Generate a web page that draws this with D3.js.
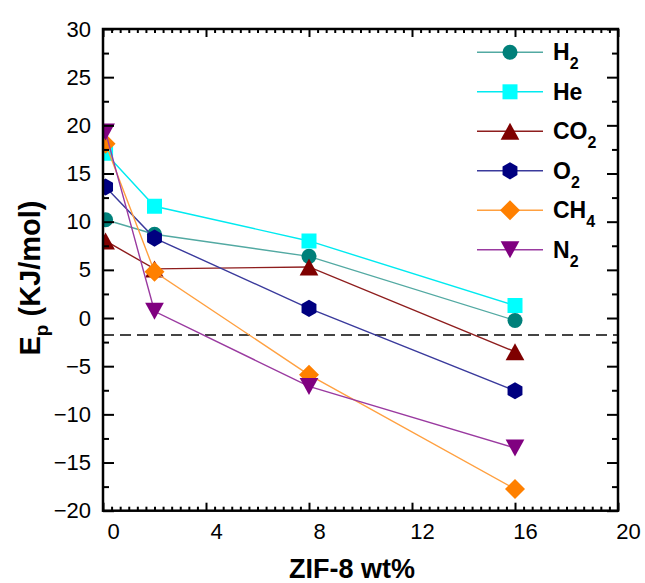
<!DOCTYPE html>
<html>
<head>
<meta charset="utf-8">
<script src="https://cdn.jsdelivr.net/npm/d3@7"></script>
<style>
  html, body { margin: 0; padding: 0; background: #fff; }
  svg { display: block; font-family: "Liberation Sans", Arial, sans-serif; }
</style>
</head>
<body>
<script>
// ZIF-8 loading (wt%) at which each gas was measured
const wt = [0.1, 2, 8, 16];

// Activation energy Ep (kJ/mol) per gas
const h2  = [10.2, 8.7, 6.4, -0.25];
const he  = [17.1, 11.6, 8.0, 1.3];
const co2 = [8.0, 5.1, 5.3, -3.5];
const o2  = [13.6, 8.3, 1.0, -7.55];
const ch4 = [18.1, 4.8, -5.9, -17.75];
const n2  = [19.3, 0.7, -7.1, -13.5];

const gasNames = ["H2", "He", "CO2", "O2", "CH4", "N2"];
const gasValues = [h2, he, co2, o2, ch4, n2];

// Reference level drawn as a dashed line
const refLevel = -1.75;

// Tick values
const xMajor = [0, 4, 8, 12, 16, 20];
const yMajor = [-20, -15, -10, -5, 0, 5, 10, 15, 20, 25, 30];

const W = 645, H = 583;
const plotL = 103, plotR = 618, plotT = 29, plotB = 510.7;

const x = d3.scaleLinear().domain([0, 20]).range([plotL, plotR]);
const y = d3.scaleLinear().domain([-20, 30]).range([plotB, plotT]);

const xMinor = d3.range(0, 20.0001, 1 / 3).filter(v => Math.abs(v / 4 - Math.round(v / 4)) > 1e-6);
const yMinor = d3.range(-17.5, 30, 5);

// Marker shapes centred on their bounding box
const shapes = {
  circle: { draw(c, s) { const r = s; c.moveTo(r, 0); c.arc(0, 0, r, 0, 2 * Math.PI); } },
  square: { draw(c, s) { c.rect(-s, -s, 2 * s, 2 * s); } },
  triUp: { draw(c, s) { c.moveTo(0, -s); c.lineTo(s * 1.1, s); c.lineTo(-s * 1.1, s); c.closePath(); } },
  triDown: { draw(c, s) { c.moveTo(0, s); c.lineTo(s * 1.1, -s); c.lineTo(-s * 1.1, -s); c.closePath(); } },
  hexagon: { draw(c, s) {
    for (let i = 0; i < 6; i++) {
      const a = Math.PI / 2 + i * Math.PI / 3;
      const px = s * Math.cos(a), py = s * Math.sin(a);
      if (i === 0) c.moveTo(px, py); else c.lineTo(px, py);
    }
    c.closePath();
  } },
  diamond: { draw(c, s) { c.moveTo(0, -s); c.lineTo(s, 0); c.lineTo(0, s); c.lineTo(-s, 0); c.closePath(); } }
};

const styles = [
  { shape: "circle",  size: 7.5, fill: "#00807a", line: "#52a9a2" },
  { shape: "square",  size: 7.5, fill: "#00ffff", line: "#00eaf0" },
  { shape: "triUp",   size: 8.5, fill: "#7f0000", line: "#8e1d1d" },
  { shape: "hexagon", size: 8.6, fill: "#000080", line: "#3a3a9c" },
  { shape: "diamond", size: 10,  fill: "#ff8000", line: "#ffa040" },
  { shape: "triDown", size: 8.5, fill: "#800080", line: "#9a3aa0" }
];

const svg = d3.select("body").append("svg").attr("width", W).attr("height", H);

svg.append("defs").append("clipPath").attr("id", "plotClip")
  .append("rect").attr("x", plotL).attr("y", plotT).attr("width", plotR - plotL).attr("height", plotB - plotT);

// Dashed reference line
svg.append("line")
  .attr("x1", plotL).attr("x2", plotR)
  .attr("y1", y(refLevel)).attr("y2", y(refLevel))
  .attr("stroke", "#444").attr("stroke-width", 2)
  .attr("stroke-dasharray", "11,6");

// Series: line then markers, in plotting order
const plot = svg.append("g").attr("clip-path", "url(#plotClip)");
const lineGen = d3.line().x((d, i) => x(wt[i])).y(d => y(d));

gasValues.forEach((vals, k) => {
  const st = styles[k];
  const g = plot.append("g");
  g.append("path").attr("d", lineGen(vals))
    .attr("fill", "none").attr("stroke", st.line).attr("stroke-width", 1.4);
  g.selectAll("path.m").data(vals).join("path")
    .attr("class", "m")
    .attr("transform", (d, i) => `translate(${x(wt[i])},${y(d)})`)
    .attr("d", d3.symbol().type(shapes[st.shape]).size(st.size))
    .attr("fill", st.fill);
});

// Axes with inward ticks on all four sides
function styleAxis(g) {
  g.select(".domain").remove();
  g.selectAll(".tick line").attr("stroke", "#000").attr("stroke-width", 2);
}

const fontSize = 22;

svg.append("g").attr("transform", `translate(0,${plotB})`)
  .call(d3.axisBottom(x).tickValues(xMajor).tickSize(-8).tickPadding(13).tickFormat(d3.format("d")))
  .call(styleAxis)
  .call(g => g.selectAll("text").attr("font-size", fontSize).attr("dx", 10).attr("fill", "#000")
    .attr("font-family", "Liberation Sans, Arial, sans-serif"));
svg.append("g").attr("transform", `translate(0,${plotB})`)
  .call(d3.axisBottom(x).tickValues(xMinor).tickSize(-4).tickFormat(""))
  .call(styleAxis);
svg.append("g").attr("transform", `translate(0,${plotT})`)
  .call(d3.axisTop(x).tickValues(xMajor).tickSize(-8).tickFormat(""))
  .call(styleAxis);
svg.append("g").attr("transform", `translate(0,${plotT})`)
  .call(d3.axisTop(x).tickValues(xMinor).tickSize(-4).tickFormat(""))
  .call(styleAxis);

svg.append("g").attr("transform", `translate(${plotL},0)`)
  .call(d3.axisLeft(y).tickValues(yMajor).tickSize(-11).tickPadding(12).tickFormat(d3.format("d")))
  .call(styleAxis)
  .call(g => g.selectAll("text").attr("font-size", fontSize).attr("fill", "#000")
    .attr("font-family", "Liberation Sans, Arial, sans-serif"));
svg.append("g").attr("transform", `translate(${plotL},0)`)
  .call(d3.axisLeft(y).tickValues(yMinor).tickSize(-6).tickFormat(""))
  .call(styleAxis);
svg.append("g").attr("transform", `translate(${plotR},0)`)
  .call(d3.axisRight(y).tickValues(yMajor).tickSize(-11).tickFormat(""))
  .call(styleAxis);
svg.append("g").attr("transform", `translate(${plotR},0)`)
  .call(d3.axisRight(y).tickValues(yMinor).tickSize(-6).tickFormat(""))
  .call(styleAxis);

// Frame
svg.append("rect")
  .attr("x", plotL).attr("y", plotT).attr("width", plotR - plotL).attr("height", plotB - plotT)
  .attr("fill", "none").attr("stroke", "#000").attr("stroke-width", 2.5);

// Axis titles
svg.append("text")
  .attr("x", 352).attr("y", 578)
  .attr("text-anchor", "middle")
  .attr("font-size", 27).attr("font-weight", "bold")
  .text("ZIF-8 wt%");

const yt = svg.append("text")
  .attr("transform", "translate(40,278) rotate(-90)")
  .attr("text-anchor", "middle")
  .attr("font-size", 29).attr("font-weight", "bold");
yt.append("tspan").text("E");
yt.append("tspan").attr("font-size", 19).attr("dy", 8).text("p");
yt.append("tspan").attr("dy", -8).text(" (KJ/mol)");

// Legend
const legendX0 = 477, legendX1 = 543, legendMark = 510, legendText = 553;
const legendY0 = 52.3, legendStep = 39.5;

function subLabel(sel, name) {
  const m = name.match(/^([A-Za-z]+?)(\d*)$/);
  const base = m[1], sub = m[2];
  sel.append("tspan").text(base);
  if (sub) sel.append("tspan").attr("font-size", 16).attr("dy", 9).text(sub);
}

gasNames.forEach((name, k) => {
  const st = styles[k];
  const ly = legendY0 + k * legendStep;
  const g = svg.append("g");
  g.append("line").attr("x1", legendX0).attr("x2", legendX1).attr("y1", ly).attr("y2", ly)
    .attr("stroke", st.line).attr("stroke-width", 1.6);
  g.append("path")
    .attr("transform", `translate(${legendMark},${ly})`)
    .attr("d", d3.symbol().type(shapes[st.shape]).size(st.size))
    .attr("fill", st.fill);
  const t = g.append("text").attr("x", legendText).attr("y", ly + 8)
    .attr("font-size", 23).attr("font-weight", "bold").attr("fill", "#000");
  subLabel(t, name);
});
</script>
</body>
</html>
